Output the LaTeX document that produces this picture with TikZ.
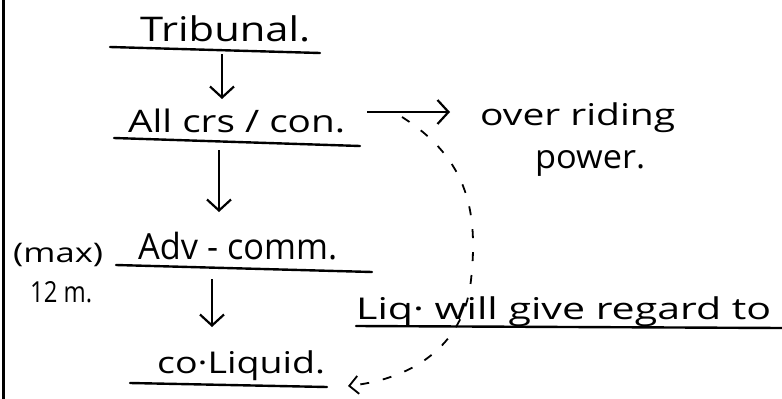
\documentclass[tikz,border=0pt]{standalone}
\usepackage{fontspec}
\usepackage{graphicx}
\setmainfont{Open Sans}
\usetikzlibrary{arrows.meta}
% stretch a label to a given width, keeping its height
\newcommand\fitw[2]{\resizebox{#1}{\height}{#2}}
\begin{document}
\begin{tikzpicture}[x=1pt,y=-1pt,
  lbl/.style={inner sep=0pt, anchor=base west},
  uline/.style={line width=2.4pt, line cap=round},
  flow/.style={line width=2.2pt, -{Straight Barb[length=11pt,width=24pt,line width=2.2pt]}},
  back/.style={line width=1.8pt, dash pattern=on 9pt off 14pt,
               -{Straight Barb[length=9pt,width=18pt,line width=1.8pt]}}]
\useasboundingbox (0,0) rectangle (782,399);
\fill[white] (0,0) rectangle (782,399);
% margin rule
\draw[line width=3pt] (3,0) -- (3,399);

% labels
\node[lbl, font=\fontsize{34}{36}\selectfont] (tri) at (140,41) {\fitw{170pt}{Tribunal.}};
\node[lbl, font=\fontsize{31}{34}\selectfont] (all) at (128,132) {\fitw{217pt}{All crs / con.}};
\node[lbl, font=\fontsize{30}{33}\selectfont] (over) at (480,125) {\fitw{195pt}{over riding}};
\node[lbl, font=\fontsize{33}{36}\selectfont] (pow) at (535,168) {\fitw{110pt}{power.}};
\node[lbl, font=\fontsize{36}{38}\selectfont] (adv) at (138,259) {\fitw{199pt}{Adv - comm.}};
\node[lbl, font=\fontsize{27}{30}\selectfont] (max) at (13,262) {\fitw{90pt}{(max)}};
\node[lbl, font=\fontsize{29}{30}\selectfont] (twelve) at (30,302) {\fitw{62pt}{12 m.}};
\node[lbl, font=\fontsize{30}{33}\selectfont] (liq) at (356,319) {\fitw{415pt}{Liq· will give regard to}};
\node[lbl, font=\fontsize{30}{33}\selectfont] (co) at (157,373) {\fitw{168pt}{co·Liquid.}};

% underlines
\draw[uline] (110,47) -- (320,53);
\draw[uline] (114,138) -- (360,146);
\draw[uline] (116,265) -- (372,272);
\draw[uline] (356,326) -- (782,328);
\draw[uline] (130,383) -- (327,387);

% anchors for connectors
\coordinate (triU) at (222,54);
\coordinate (allU) at (219,150);
\coordinate (advU) at (212,279);
\coordinate (ovL) at (367,112);
\coordinate (dashS) at (402,117);
\coordinate (coR) at (348,386);

\draw[flow] (triU) -- (triU |- 0,99);
\draw[flow] (allU) -- (allU |- 0,212);
\draw[flow] (advU) -- (advU |- 0,327);
\draw[flow] (ovL) -- ([xshift=-30pt]over.west |- ovL);
\draw[back] (dashS) .. controls (470,160) and (478,215) .. (471,280)
            .. controls (465,340) and (420,378) .. (coR);
\end{tikzpicture}
\end{document}
